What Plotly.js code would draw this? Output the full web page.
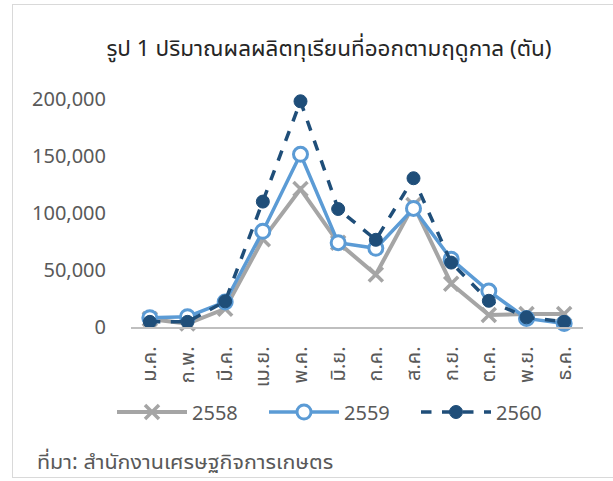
<!DOCTYPE html>
<html>
<head>
<meta charset="utf-8">
<script src="https://cdn.plot.ly/plotly-3.0.1.min.js"></script>
<style>
  html, body { margin: 0; padding: 0; background: #fff; }
  #wrap { position: relative; width: 613px; height: 481px; }
  #chart { position: absolute; left: 0; top: 0; width: 613px; height: 481px; }
  #frame { position: absolute; left: 12px; top: 4px; width: 610px; height: 474px; border: 1px solid #D9D9D9; pointer-events: none; box-sizing: border-box; }
</style>
</head>
<body>
<div id="wrap">
  <div id="chart"></div>
  <div id="frame"></div>
</div>
<script>
const months = ["ม.ค.", "ก.พ.", "มี.ค.", "เม.ย.", "พ.ค.", "มิ.ย.", "ก.ค.", "ส.ค.", "ก.ย.", "ต.ค.", "พ.ย.", "ธ.ค."];
const y2558 = [7000, 3000, 16000, 77000, 121000, 74000, 46000, 107000, 38000, 10500, 11500, 11500];
const y2559 = [8200, 9000, 22000, 84000, 151500, 74000, 69000, 104000, 59500, 31500, 7500, 3000];
const y2560 = [4500, 4500, 22500, 110000, 198000, 103500, 76500, 130500, 56500, 23000, 8500, 4500];
const yTicks = [0, 50000, 100000, 150000, 200000];
const yTickText = ["0", "50,000", "100,000", "150,000", "200,000"];

const FONT = "'Noto Sans', 'Noto Sans Thai UI', 'Noto Sans Thai', Loma, Garuda, Sarabun, sans-serif";

const traces = [
  {
    x: months, y: y2558, name: "2558", type: "scatter", mode: "lines+markers",
    line: { color: "#A5A5A5", width: 4 },
    marker: { symbol: "x-thin", size: 14, line: { color: "#A5A5A5", width: 3.5 }, color: "#A5A5A5" },
    cliponaxis: false
  },
  {
    x: months, y: y2559, name: "2559", type: "scatter", mode: "lines+markers",
    line: { color: "#5B9BD5", width: 3.5 },
    marker: { symbol: "circle", size: 14, color: "#FFFFFF", line: { color: "#5B9BD5", width: 3 } },
    cliponaxis: false
  },
  {
    x: months, y: y2560, name: "2560", type: "scatter", mode: "lines+markers",
    line: { color: "#1F4E79", width: 3.5, dash: "dash" },
    marker: { symbol: "circle", size: 13, color: "#1F4E79", line: { color: "#1F4E79", width: 1 } },
    cliponaxis: false
  }
];

const layout = {
  width: 613, height: 481,
  margin: { l: 131, r: 30, t: 99, b: 154 },
  paper_bgcolor: "#FFFFFF", plot_bgcolor: "#FFFFFF",
  font: { family: FONT, color: "#595959" },
  showlegend: true,
  title: {
    text: "รูป 1 ปริมาณผลผลิตทุเรียนที่ออกตามฤดูกาล (ตัน)",
    font: { family: FONT, size: 22.5, color: "#262626" },
    x: 329 / 613, xanchor: "center", y: 1 - 48 / 481, yanchor: "middle", xref: "container", yref: "container"
  },
  xaxis: {
    type: "category", range: [-0.5, 11.5],
    showgrid: false, zeroline: false,
    showline: true, linecolor: "#BFBFBF", linewidth: 1.5,
    ticks: "", tickangle: -90, ticklabelstandoff: 10,
    tickfont: { family: FONT, size: 20, color: "#595959" }
  },
  yaxis: {
    range: [0, 200000], tickvals: yTicks, ticktext: yTickText,
    showgrid: false, zeroline: false, showline: false,
    ticks: "", ticklabelstandoff: 24,
    tickfont: { family: FONT, size: 20, color: "#595959" }
  },
  legend: {
    orientation: "h", xref: "paper", x: (112 - 131) / 452, xanchor: "left",
    yref: "paper", y: -(412 - 327) / 228, yanchor: "middle",
    bgcolor: "rgba(0,0,0,0)",
    font: { family: FONT, size: 20, color: "#595959" },
    itemwidth: 70, entrywidth: 67, traceorder: "normal"
  },
  annotations: [
    {
      text: "ที่มา: สำนักงานเศรษฐกิจการเกษตร",
      xref: "paper", yref: "paper", x: -(131 - 35) / 452, y: -(460 - 327) / 228,
      xanchor: "left", yanchor: "middle", showarrow: false,
      font: { family: FONT, size: 21.5, color: "#595959" }
    }
  ]
};

Plotly.newPlot("chart", traces, layout, { displayModeBar: false, staticPlot: true });
</script>
</body>
</html>
